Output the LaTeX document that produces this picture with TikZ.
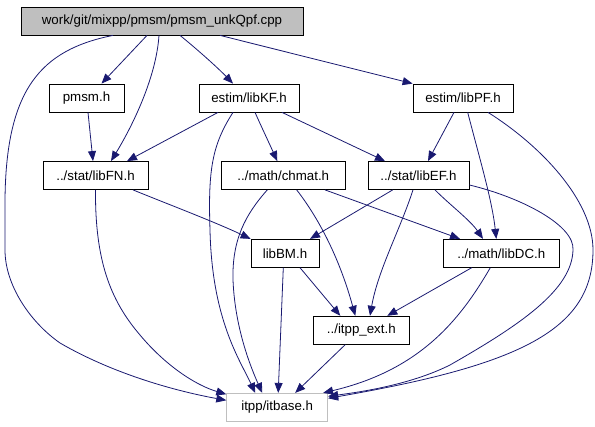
\documentclass[tikz,border=0pt]{standalone}
\usepackage{fontspec}
\setmainfont{Liberation Sans}
\usetikzlibrary{arrows.meta}
\definecolor{edgeblue}{RGB}{25,25,112}
\definecolor{rootgray}{RGB}{191,191,191}
\definecolor{framegray}{RGB}{191,191,191}
\tikzset{
  box/.style={draw=black, line width=0.8pt, rectangle, minimum height=28pt, inner sep=0pt,
    font=\fontsize{13.3}{16}\selectfont, anchor=center},
  dep/.style={draw=edgeblue, line width=0.8pt, -{Triangle[length=10pt,width=8pt]}, fill=none},
}
\begin{document}
\begin{tikzpicture}[x=1pt,y=-1pt]
\useasboundingbox (0,0) rectangle (595,427);
\node[box, fill=rootgray, minimum width=282pt] (root) at (162,21) {work/git/mixpp/pmsm/pmsm\_unkQpf.cpp\hspace{21pt}};
\node[box, minimum width=75pt] (pmsm) at (86.5,98) {pmsm.h\hspace{6pt}};
\node[box, minimum width=100pt] (kf) at (249,98) {estim/libKF.h\hspace{3pt}};
\node[box, minimum width=100pt] (pf) at (463,98) {estim/libPF.h\hspace{3pt}};
\node[box, minimum width=105pt] (fn) at (95.5,175.5) {../stat/libFN.h};
\node[box, minimum width=124pt] (chmat) at (283.3,175.5) {../math/chmat.h};
\node[box, minimum width=101pt] (ef) at (418.5,175.5) {../stat/libEF.h};
\node[box, minimum width=68pt] (bm) at (285,253.3) {libBM.h};
\node[box, minimum width=116pt] (dc) at (501.3,253.3) {../math/libDC.h};
\node[box, minimum width=96pt] (ext) at (361.3,330.2) {../itpp\_ext.h};
\node[box, draw=framegray, minimum width=101pt] (itb) at (277.2,407.3) {itpp/itbase.h};

% root
\draw[dep] ([xshift=-15pt]root.south) -- ([xshift=15pt]pmsm.north);
\draw[dep] ([xshift=-3pt]root.south) .. controls (156,80) and (130,130) .. ([xshift=15.5pt]fn.north);
\draw[dep] ([xshift=18pt]root.south) .. controls (198,50) and (218,68) .. ([xshift=-16pt]kf.north);
\draw[dep] ([xshift=58pt]root.south) -- (pf.north west);
\draw[dep] ([xshift=-49pt]root.south) .. controls (40,50) and (6,90) .. (5,200) -- (5,250)
  .. controls (5,285) and (30,322) .. (60,343) .. controls (110,372) and (170,390) .. ([yshift=7pt]itb.west);
% pmsm
\draw[dep] ([xshift=1.5pt]pmsm.south) -- ([xshift=-2.5pt]fn.north);
% libKF
\draw[dep] ([xshift=-31pt]kf.south) -- ([xshift=31.5pt]fn.north);
\draw[dep] ([xshift=6pt]kf.south) .. controls (262,128) and (270,145) .. ([xshift=-6pt]chmat.north);
\draw[dep] ([xshift=33pt]kf.south) -- ([xshift=-33.5pt]ef.north);
\draw[dep] ([xshift=-16pt]kf.south) .. controls (212,145) and (208,170) .. (210,230)
  .. controls (212,320) and (240,360) .. ([xshift=-22pt]itb.north);
% libPF
\draw[dep] ([xshift=-9pt]pf.south) -- ([xshift=9.5pt]ef.north);
\draw[dep] ([xshift=4.7pt]pf.south) .. controls (480,160) and (492,200) .. ([xshift=-5pt]dc.north);
\draw[dep] ([xshift=25pt]pf.south) .. controls (540,145) and (593,200) .. (593,250)
  .. controls (593,330) and (520,365) .. ([yshift=9pt]itb.east);
% libFN
\draw[dep] ([xshift=37.5pt]fn.south) .. controls (165,203) and (215,222) .. (bm.north west);
\draw[dep] (fn.south) .. controls (95,260) and (110,300) .. (140,335)
  .. controls (165,365) and (195,385) .. ([yshift=13pt]itb.west);
% chmat
\draw[dep] ([xshift=13.4pt]chmat.south) .. controls (320,220) and (340,260) .. ([xshift=-6pt]ext.north);
\draw[dep] ([xshift=41.7pt]chmat.south) -- ([xshift=-41.3pt]dc.north);
\draw[dep] ([xshift=-16pt]chmat.south) .. controls (245,215) and (232,240) .. (233,280)
  .. controls (235,330) and (252,370) .. ([xshift=-15pt]itb.north);
% libEF
\draw[dep] ([xshift=-25.8pt]ef.south) -- ([xshift=25pt]bm.north);
\draw[dep] ([xshift=16.5pt]ef.south) .. controls (450,205) and (470,220) .. ([xshift=-18.3pt]dc.north);
\draw[dep] ([xshift=-5.5pt]ef.south) .. controls (400,230) and (378,270) .. ([xshift=8.7pt]ext.north);
\draw[dep] ([yshift=-9.5pt]ef.east) .. controls (520,197) and (575,225) .. (573,250)
  .. controls (572,290) and (520,325) .. (450,365) .. controls (410,385) and (360,392) .. ([yshift=11pt]itb.east);
% libBM
\draw[dep] ([xshift=-1.7pt]bm.south) -- ([xshift=1pt]itb.north);
\draw[dep] ([xshift=15pt]bm.south) -- ([xshift=-21pt]ext.north);
% libDC
\draw[dep] ([xshift=-29.6pt]dc.south) -- ([xshift=26pt]ext.north);
\draw[dep] ([xshift=-11pt]dc.south) .. controls (460,320) and (420,370) .. ([xshift=-5pt]itb.north east);
% itpp_ext
\draw[dep] ([xshift=-16pt]ext.south) -- ([xshift=18pt]itb.north);
\end{tikzpicture}
\end{document}
